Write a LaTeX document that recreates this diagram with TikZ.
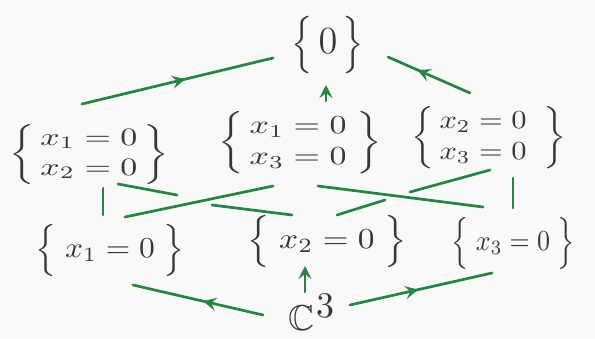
\documentclass[tikz,border=0pt]{standalone}
\usepackage{amsmath,amssymb}
\usetikzlibrary{calc,arrows.meta,decorations.markings}
\definecolor{ink}{RGB}{55,55,55}
\definecolor{pen}{RGB}{35,135,65}
\definecolor{paper}{RGB}{249,249,247}
\tikzset{
  lbl/.style={text=ink, inner sep=0pt},
  edge/.style={draw=pen, line width=2.7pt, line cap=round},
  midarrow/.style={edge, postaction={decorate},
    decoration={markings, mark=at position #1 with {\arrow{Stealth[length=13pt,width=13pt,inset=5pt]}}}},
  tiparrow/.style={edge, -{Stealth[length=13pt,width=13pt,inset=5pt]}},
}
\begin{document}
\begin{tikzpicture}[x=1pt,y=-1pt]
\fill[paper] (0,0) rectangle (595,338);
\useasboundingbox (0,0) rectangle (595,338);
% labels
\node[lbl] (top) at (328,45) {\scalebox{3.2}{$\Big\{\,\text{\large$0$}\,\Big\}$}};
\node[lbl] (m12) at (89,154)
  {\scalebox{3.4}[2.5]{$\left\{\begin{array}{@{\,}l@{\,}} x_1=0\\ x_2=0\end{array}\right\}$}};
\node[lbl] (m13) at (300,143)
  {\scalebox{3.4}[2.6]{$\left\{\begin{array}{@{\,}l@{\;}} x_1=0\\ x_3=0\end{array}\right\}$}};
\node[lbl] (m23) at (489,138)
  {\scalebox{3.05}[2.6]{$\left\{\begin{array}{@{\,}l@{\;\;}} x_2=0\\ x_3=0\end{array}\right\}$}};
\node[lbl] (b1) at (110,250) {\scalebox{3.15}[2.9]{$\Big\{\;x_1=0\;\Big\}$}};
\node[lbl] (b2) at (327,241) {\scalebox{3.35}[2.9]{$\Big\{\;x_2=0\;\Big\}$}};
\node[lbl] (b3) at (513,243) {\scalebox{2.6}[2.9]{$\Big\{\;x_3=0\;\Big\}$}};
\node[lbl] (c3) at (312,312) {\scalebox{3.6}{$\mathbb{C}\mkern1mu^{\textstyle 3}$}};
% arrows to {0}
\draw[midarrow=0.54] ($(m12)+(-7,-50)$) -- ($(top)+(-55,13)$);
\draw[tiparrow] ($(m13)+(26,-42)$) -- ($(top)+(-2,40)$);
\draw[midarrow=0.64] ($(m23)+(-19,-45)$) -- ($(top)+(60,12)$);
% middle edges
\draw[edge] ($(m12)+(14,34)$) -- ($(b1)+(-7,-35)$);
\draw[edge] ($(m12)+(29,30)$) -- ($(m12)+(88,41)$);
\draw[edge] ($(b2)+(-115,-36)$) -- ($(b2)+(-35,-26)$);
\draw[edge] ($(m13)+(-27,43)$) -- ($(b1)+(15,-33)$);
\draw[edge] ($(m13)+(18,43)$) -- ($(b3)+(-30,-36)$);
\draw[edge] ($(m23)+(1,32)$) -- ($(m23)+(-79,54)$);
\draw[edge] ($(b2)+(58,-41)$) -- ($(b2)+(10,-26)$);
\draw[edge] ($(m23)+(24,40)$) -- ($(b3)+(0,-35)$);
% arrows from C^3
\draw[midarrow=0.46] ($(c3)+(-49,3)$) -- ($(b1)+(23,35)$);
\draw[tiparrow] ($(c3)+(-7,-20)$) -- ($(b2)+(-22,25)$);
\draw[midarrow=0.48] ($(c3)+(38,-7)$) -- ($(b3)+(-21,30)$);
\end{tikzpicture}
\end{document}
